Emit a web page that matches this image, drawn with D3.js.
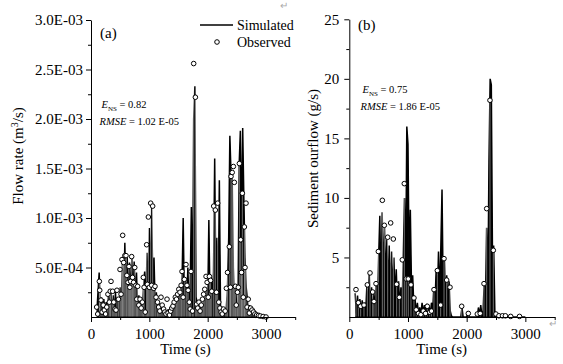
<!DOCTYPE html>
<html>
<head>
<meta charset="utf-8">
<script src="https://cdn.jsdelivr.net/npm/d3@7/dist/d3.min.js"></script>
<style>
  html, body { margin: 0; padding: 0; background: #fff; }
  svg { display: block; }
  text { font-family: "Liberation Serif", "Times New Roman", serif; fill: #000; }
</style>
</head>
<body>
<svg id="chart" width="563" height="364"></svg>
<script>
// ---------------- DATA ----------------
// Panel (a): flow rate, values in units of 1E-04 m^3/s
const simTimeA = [100,120,140,160,180,200,220,240,260,280,300,320,340,360,380,400,420,440,460,480,
  500,520,540,560,580,600,620,640,660,680,700,720,740,760,780,800,820,840,860,880,
  900,920,940,960,980,1000,1020,1040,1060,1080,1100,1120,1140,1160,1180,1200,1220,1240,1260,1280,
  1300,1320,1340,1360,1380,1400,1420,1440,1460,1480,1500,1520,1540,1560,1580,1600,1620,1640,1660,1680,
  1700,1720,1740,1760,1780,1800,1820,1840,1860,1880,1900,1920,1940,1960,1980,2000,2020,2040,2060,2080,
  2100,2120,2140,2160,2180,2200,2220,2240,2260,2280,2300,2320,2340,2360,2380,2400,2420,2440,2460,2480,
  2500,2520,2540,2560,2580,2600,2620,2640,2660,2680,2700,2720,2740,2760,2780,2800,2820,2840,2860,2880,
  2900,2920,2940,2960,2980];
const simFlowA = [0.5,2.5,4.5,0.3,2.0,0.5,1.8,0.2,1.5,0.4,2.5,0.3,2.8,0.5,2.2,0.3,2.6,0.4,2.0,0.6,
  3.0,0.8,6.0,1.0,7.5,2.0,6.2,1.5,5.5,1.2,6.0,1.0,5.6,1.5,4.5,0.8,2.2,0.5,2.0,0.4,
  3.0,4.6,0.8,6.5,2.0,9.0,3.0,11.0,3.0,6.0,1.0,2.5,0.5,1.5,0.3,1.2,0.2,0.8,0.2,0.7,
  0.1,0.8,0.2,1.0,0.3,1.5,0.5,2.0,0.6,2.5,1.0,3.0,1.0,3.5,10.0,1.5,4.0,1.2,5.0,1.0,
  3.0,11.1,0.5,20.0,23.3,2.0,1.5,0.5,1.2,0.3,1.5,0.5,2.0,0.8,2.8,1.0,9.8,1.5,4.0,2.0,
  4.5,16.0,3.0,8.0,2.0,13.8,1.0,1.0,0.3,0.6,0.2,1.0,3.0,8.0,18.3,14.5,14.0,5.0,2.0,3.0,
  0.5,1.5,15.5,18.8,8.0,19.1,12.0,6.0,3.0,1.8,0.5,1.2,0.2,0.8,0.2,0.6,0.1,0.4,0.1,0.3,
  0.0,0.2,0.0,0.1,0.0];
const obsTimeA = [97,115,143,150,171,190,210,228,250,270,290,314,330,343,371,390,410,428,445,470,
  497,515,531,543,560,580,600,615,635,651,665,680,697,712,730,750,770,785,800,820,
  840,860,880,897,910,930,954,966,983,1000,1023,1040,1057,1075,1097,1115,1140,1160,1180,1200,
  1220,1245,1265,1285,1303,1320,1345,1365,1385,1405,1425,1445,1465,1485,1505,1525,1545,1560,1580,1600,
  1628,1645,1665,1685,1700,1714,1740,1760,1789,1810,1830,1850,1870,1890,1910,1930,1950,1972,1990,2010,
  2029,2050,2070,2103,2131,2150,2171,2190,2210,2230,2250,2270,2300,2320,2340,2371,2390,2400,2420,2440,
  2457,2475,2490,2510,2525,2543,2566,2580,2594,2610,2629,2640,2657,2675,2695,2714,2735,2760,2785,2810,
  2840,2870,2900,2950,3000];
const obsFlowA = [1.0,0.3,3.6,2.7,1.7,0.5,1.2,0.7,0.3,1.0,2.3,1.5,2.6,3.6,2.6,1.5,0.8,0.7,2.7,1.8,
  4.8,2.3,5.8,8.25,5.5,6.2,6.2,4.2,3.5,5.1,3.0,3.6,6.1,4.0,3.5,5.0,3.2,1.8,3.1,1.2,
  1.8,0.9,1.5,4.0,3.0,0.5,7.3,3.3,10.1,3.0,11.5,3.2,11.2,2.9,3.1,2.0,1.5,1.0,0.6,2.0,
  1.2,0.8,0.5,0.3,1.8,0.4,0.2,0.6,0.9,1.1,1.5,2.0,1.8,2.3,2.8,2.5,3.2,4.6,2.0,3.8,
  5.3,3.2,2.7,1.5,0.8,4.6,0.6,25.6,22.2,1.3,0.9,1.5,0.6,1.2,1.8,2.3,2.8,4.1,3.5,2.0,
  4.1,3.7,2.6,11.2,10.8,2.5,11.5,1.5,0.9,0.5,0.3,0.8,0.6,2.9,4.5,7.1,3.0,14.2,14.6,15.2,
  13.6,3.1,1.2,2.5,3.0,15.5,7.8,4.5,12.5,2.0,9.1,5.0,11.5,1.0,1.8,0.4,0.9,0.7,0.5,0.3,
  0.2,0.15,0.1,0.05,0.0];
const unitA = 1e-4;

// Panel (b): sediment outflow, g/s
const simTimeB = [100,120,140,160,180,200,220,240,260,280,300,320,340,360,380,400,420,440,460,480,
  500,520,540,560,580,600,620,640,660,680,700,720,740,760,780,800,820,840,860,880,
  900,920,940,960,980,1000,1020,1040,1060,1080,1100,1120,1140,1160,1180,1200,1220,1240,1260,1280,
  1300,1320,1340,1360,1380,1400,1420,1440,1460,1480,1500,1520,1540,1560,1580,1600,1620,1640,1660,1680,
  1700,1720,1740,1760,1800,1900,1920,1940,2000,2020,2040,2100,2180,2200,2220,2240,2260,2280,
  2300,2320,2340,2360,2380,2400,2420,2440,2460,2480,2500,2520,2600,2800,3000];
const simSedB = [2.0,0.3,1.8,0.4,1.5,0.3,1.4,0.2,1.2,0.5,2.7,0.4,3.6,0.6,2.5,0.3,2.0,0.5,3.0,1.0,
  5.0,8.5,2.0,8.8,3.0,7.5,2.5,6.5,2.0,6.0,2.2,5.5,1.8,5.0,1.5,4.0,1.0,3.0,0.8,2.5,
  1.0,5.0,10.0,3.5,16.0,14.5,4.0,9.0,2.5,3.5,0.8,1.5,0.3,1.2,0.2,0.8,0.2,1.2,0.3,1.0,
  0.2,1.1,0.3,0.9,0.2,1.2,0.4,2.5,1.0,4.0,1.5,5.5,1.5,6.0,10.7,2.0,5.0,1.0,3.5,0.8,
  3.0,0.5,0.1,0.0,0.0,0.0,0.8,0.0,0.0,0.5,0.0,0.0,0.0,0.8,0.1,1.0,0.1,0.5,
  3.0,1.0,7.5,2.0,13.0,20.0,19.5,5.0,6.0,0.5,0.1,0.0,0.0,0.0,0.0];
const obsTimeB = [114,154,194,250,307,353,398,420,455,495,563,597,654,705,750,807,852,903,937,970,
  1005,1051,1102,1140,1180,1220,1260,1300,1329,1370,1400,1443,1500,1557,1614,1659,1716,1915,2028,2181,
  2230,2295,2341,2397,2454,2499,2550,2610,2660,2750,2900];
const obsSedB = [2.3,1.2,0.9,1.0,2.7,3.7,2.1,1.3,2.8,5.5,9.8,7.7,6.7,7.9,6.55,2.75,1.65,4.8,11.2,3.2,
  3.2,2.7,1.6,0.6,0.3,0.2,0.5,0.3,0.9,0.4,0.5,2.3,3.9,1.0,4.9,3.1,2.5,0.9,0.3,0.25,
  0.3,2.8,9.1,18.2,5.6,0.25,0.1,0.1,0.1,0.05,0.05];

// Axis ticks and labels
const xMajorTicks = [0, 1000, 2000, 3000];
const xMinorTicks = [500, 1500, 2500, 3500];
const yTicksA = [5e-4, 1e-3, 1.5e-3, 2e-3, 2.5e-3, 3e-3];
const yTickLabelsA = ["5.0E-04", "1.0E-03", "1.5E-03", "2.0E-03", "2.5E-03", "3.0E-03"];
const yMinorA = [2.5e-4, 7.5e-4, 1.25e-3, 1.75e-3, 2.25e-3, 2.75e-3];
const yTicksB = [5, 10, 15, 20, 25];
const yMinorB = [2.5, 7.5, 12.5, 17.5, 22.5];

// ---------------- DRAW ----------------
const svg = d3.select("#chart");
const SERIF = "'Liberation Serif', 'Times New Roman', serif";

function panel(cfg) {
  const x = d3.scaleLinear().domain([0, 3500]).range([cfg.left, cfg.right]);
  const y = d3.scaleLinear().domain([0, cfg.ymax]).range([317, cfg.top]);
  const g = svg.append("g");

  const sim = cfg.simT.map((t, i) => [t, cfg.simV[i] * cfg.unit]);
  const obs = cfg.obsT.map((t, i) => [t, cfg.obsV[i] * cfg.unit]);

  // simulated: spiky series, drawn as filled impulses plus outline
  g.append("path")
    .datum(sim)
    .attr("fill", "#000")
    .attr("stroke", "none")
    .attr("d", d3.area().x(d => x(d[0])).y0(y(0)).y1(d => y(d[1])));
  g.append("path")
    .datum(sim)
    .attr("fill", "none")
    .attr("stroke", "#000")
    .attr("stroke-width", 1.5)
    .attr("d", d3.line().x(d => x(d[0])).y(d => y(d[1])));

  // thin white drop lines below observed points
  g.selectAll("line.drop").data(obs).enter().append("line")
    .attr("x1", d => x(d[0])).attr("x2", d => x(d[0]))
    .attr("y1", d => y(d[1]) + 2.5).attr("y2", y(0) - 0.5)
    .attr("stroke", "#fff").attr("stroke-width", 0.45);

  // observed circles
  g.selectAll("circle.obs").data(obs).enter().append("circle")
    .attr("cx", d => x(d[0])).attr("cy", d => y(d[1]))
    .attr("r", 2.3)
    .attr("fill", "#fff").attr("stroke", "#000").attr("stroke-width", 1);

  // x axis
  const xa = g.append("g").attr("transform", `translate(0,${y(0)})`)
    .call(d3.axisBottom(x).tickValues(xMajorTicks).tickSize(5).tickPadding(6).tickSizeOuter(0)
      .tickFormat(d3.format("d")));
  xa.attr("font-family", SERIF);
  xa.selectAll("text").style("font-family", SERIF).style("font-size", "15px");
  const xm = g.append("g").attr("transform", `translate(0,${y(0)})`)
    .call(d3.axisBottom(x).tickValues(xMinorTicks).tickSize(3).tickFormat("").tickSizeOuter(0));
  xm.select(".domain").remove();

  // y axis
  const ya = g.append("g").attr("transform", `translate(${cfg.left},0)`)
    .call(d3.axisLeft(y).tickValues(cfg.yTicks).tickSize(5).tickPadding(cfg.pad).tickSizeOuter(0)
      .tickFormat((d, i) => cfg.yLabels ? cfg.yLabels[i] : d3.format("d")(d)));
  ya.attr("font-family", SERIF);
  ya.selectAll("text").style("font-family", SERIF).style("font-size", "15px");
  const ym = g.append("g").attr("transform", `translate(${cfg.left},0)`)
    .call(d3.axisLeft(y).tickValues(cfg.yMinor).tickSize(3).tickFormat("").tickSizeOuter(0));
  ym.select(".domain").remove();

  // x title
  g.append("text").attr("x", cfg.titleX).attr("y", 354)
    .attr("text-anchor", "middle").style("font-size", "15px").text("Time (s)");

  return { x, y, g };
}

panel({ left: 91, right: 295.2, top: 20, ymax: 3e-3, unit: unitA, titleX: 185.5,
  simT: simTimeA, simV: simFlowA, obsT: obsTimeA, obsV: obsFlowA,
  yTicks: yTicksA, yLabels: yTickLabelsA, yMinor: yMinorA, pad: 3 });
panel({ left: 349.3, right: 554.7, top: 19.3, ymax: 25, unit: 1, titleX: 441.7,
  simT: simTimeB, simV: simSedB, obsT: obsTimeB, obsV: obsSedB,
  yTicks: yTicksB, yLabels: null, yMinor: yMinorB, pad: 5 });

// y titles
const ta = svg.append("text").attr("transform", "translate(23,156) rotate(-90)")
  .attr("text-anchor", "middle").style("font-size", "15px");
ta.append("tspan").text("Flow rate (m");
ta.append("tspan").attr("dy", -5).style("font-size", "10px").text("3");
ta.append("tspan").attr("dy", 5).text("/s)");
svg.append("text").attr("transform", "translate(318,158.5) rotate(-90)")
  .attr("text-anchor", "middle").style("font-size", "15px").text("Sediment ourflow (g/s)");

// panel labels
svg.append("text").attr("x", 100).attr("y", 38).style("font-size", "15px").text("(a)");
svg.append("text").attr("x", 358).attr("y", 30).style("font-size", "15px").text("(b)");

// legend
svg.append("line").attr("x1", 200).attr("x2", 233).attr("y1", 25).attr("y2", 25)
  .attr("stroke", "#000").attr("stroke-width", 1.3);
svg.append("text").attr("x", 237).attr("y", 29.5).style("font-size", "14px").text("Simulated");
svg.append("circle").attr("cx", 217).attr("cy", 42).attr("r", 2.3)
  .attr("fill", "#fff").attr("stroke", "#000");
svg.append("text").attr("x", 237).attr("y", 46.5).style("font-size", "14px").text("Observed");

// statistics annotations
function stats(x, y1, y2, ens, rmse) {
  const t1 = svg.append("text").attr("x", x).attr("y", y1).style("font-size", "10.5px");
  t1.append("tspan").style("font-style", "italic").text("E");
  t1.append("tspan").attr("dy", 2.5).style("font-size", "7px").text("NS");
  t1.append("tspan").attr("dy", -2.5).text(" = " + ens);
  const t2 = svg.append("text").attr("x", x - 2).attr("y", y2).style("font-size", "10.5px");
  t2.append("tspan").style("font-style", "italic").text("RMSE");
  t2.append("tspan").text(" = " + rmse);
}
stats(101.5, 108, 124.5, "0.82", "1.02 E-05");
stats(362.5, 93, 110, "0.75", "1.86 E-05");

// paragraph marks
svg.append("text").attr("x", 280).attr("y", 9).style("font-size", "10px").style("fill", "#aaa").text("↵");
svg.append("text").attr("x", 549).attr("y", 327).style("font-size", "10px").style("fill", "#aaa").text("↵");
</script>
</body>
</html>
